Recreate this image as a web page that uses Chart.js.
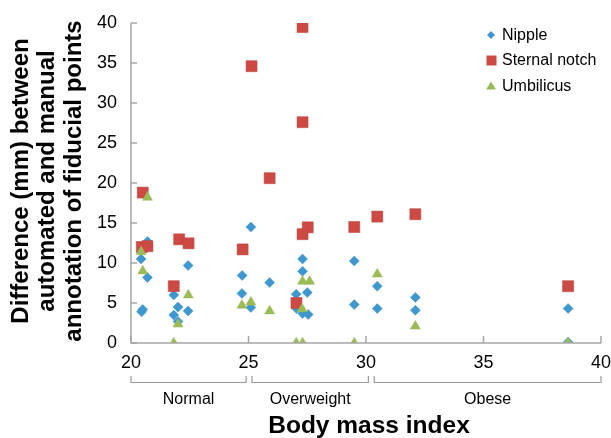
<!DOCTYPE html>
<html>
<head>
<meta charset="utf-8">
<script src="https://cdn.jsdelivr.net/npm/chart.js@4.4.1/dist/chart.umd.min.js"></script>
<style>
  body { margin: 0; background: #fff; }
  canvas { display: block; }
</style>
</head>
<body>
<canvas id="bmi" width="611" height="438"></canvas>
<script>
// data
var nippleBMI  = [20.7, 20.43, 20.7, 20.45, 20.5, 22.43, 21.82, 22.0, 21.82, 22.43, 22.0, 25.1, 27.3, 29.5, 24.73, 27.3, 25.9, 24.72, 27.5, 27.03, 27.04, 25.1, 27.3, 27.54, 29.5, 30.48, 30.48, 32.1, 32.1, 38.6, 38.6];
var nippleDiff = [12.7, 10.5, 8.2, 3.9, 4.2, 9.7, 6.0, 4.5, 3.5, 4.0, 2.7, 14.5, 10.5, 10.25, 8.45, 8.96, 7.55, 6.2, 6.3, 6.1, 4.3, 4.45, 3.7, 3.55, 4.8, 7.1, 4.3, 5.7, 4.1, 4.3, 0.1];

var sternalBMI  = [20.5, 20.46, 20.7, 22.05, 22.45, 21.82, 24.75, 25.13, 25.9, 27.3, 27.3, 27.52, 27.3, 29.5, 27.04, 30.48, 32.1, 38.6];
var sternalDiff = [18.8, 12.0, 12.1, 12.96, 12.46, 7.1, 11.7, 34.6, 20.6, 39.5, 27.6, 14.46, 13.6, 14.5, 5.0, 15.8, 16.1, 7.1];

var umbBMI  = [20.7, 20.43, 20.5, 22.44, 22.0, 21.82, 24.72, 25.1, 25.9, 27.3, 27.6, 27.28, 27.03, 27.3, 29.5, 30.48, 32.1, 38.6];
var umbDiff = [18.2, 11.4, 9.0, 6.0, 2.35, 0, 4.7, 5.1, 4.0, 7.7, 7.7, 4.25, 0, 0, 0, 8.6, 2.1, 0];

var xTicks = [20, 25, 30, 35, 40];
var yTicks = [0, 5, 10, 15, 20, 25, 30, 35, 40];

var groupNames  = ["Normal", "Overweight", "Obese"];
var groupStarts = [20, 25.15, 30.35];
var groupEnds   = [24.9, 30.1, 40];

var FONT = '"Liberation Sans", Arial, sans-serif';
var AXIS = "#a6a6a6";

function pts(xs, ys) {
  return xs.map(function (x, i) { return { x: x, y: ys[i] }; });
}

// axes, inward ticks, brackets, titles and legend
const extrasPlugin = {
  id: "extras",
  afterDraw: (chart) => {
    let ctx = chart.ctx;
    let xs = chart.scales.x, ys = chart.scales.y;
    let area = chart.chartArea;
    ctx.save();

    ctx.strokeStyle = AXIS;
    ctx.lineWidth = 1.5;
    ctx.beginPath();
    ctx.moveTo(area.left, area.top);
    ctx.lineTo(area.left, area.bottom);
    ctx.lineTo(area.right, area.bottom);
    ctx.stroke();

    ctx.beginPath();
    yTicks.forEach(function (v) {
      let p = ys.getPixelForValue(v);
      ctx.moveTo(area.left, p);
      ctx.lineTo(area.left + 6, p);
    });
    xTicks.forEach(function (v) {
      let p = xs.getPixelForValue(v);
      ctx.moveTo(p, area.bottom);
      ctx.lineTo(p, area.bottom - 7);
    });
    ctx.stroke();

    // BMI class brackets
    ctx.strokeStyle = "#9a9a9a";
    ctx.lineWidth = 1.2;
    ctx.fillStyle = "#000";
    ctx.font = "16px " + FONT;
    ctx.textAlign = "center";
    ctx.textBaseline = "alphabetic";
    groupNames.forEach(function (name, i) {
      let a = xs.getPixelForValue(groupStarts[i]);
      let b = xs.getPixelForValue(groupEnds[i]);
      ctx.beginPath();
      ctx.moveTo(a, 376);
      ctx.lineTo(a, 382.5);
      ctx.lineTo(b, 382.5);
      ctx.lineTo(b, 376);
      ctx.stroke();
      ctx.fillText(name, (a + b) / 2, 404);
    });

    ctx.font = "bold 24.5px " + FONT;
    ctx.fillText("Body mass index", 369, 433);

    // y title, three lines
    let yLines = ["Difference (mm) between", "automated and manual", "annotation of fiducial points"];
    ctx.save();
    ctx.translate(0, 181);
    ctx.rotate(-Math.PI / 2);
    ctx.font = "bold 24px " + FONT;
    yLines.forEach(function (t, i) {
      ctx.fillText(t, 0, 28 + i * 26.3);
    });
    ctx.restore();

    // legend
    ctx.font = "16px " + FONT;
    ctx.textAlign = "left";
    ctx.textBaseline = "middle";
    let ly = [35, 60.5, 86];
    chart.data.datasets.forEach(function (ds, i) {
      let y = ly[i];
      ctx.fillStyle = ds.backgroundColor;
      ctx.beginPath();
      if (ds.pointStyle === "rectRot") {
        ctx.moveTo(491, y - 4); ctx.lineTo(495, y); ctx.lineTo(491, y + 4); ctx.lineTo(487, y);
      } else if (ds.pointStyle === "rect") {
        ctx.rect(486.5, y - 5, 10, 10);
      } else {
        ctx.moveTo(491, y - 4.5); ctx.lineTo(496, y + 3.5); ctx.lineTo(486, y + 3.5);
      }
      ctx.closePath();
      ctx.fill();
      ctx.fillStyle = "#000";
      ctx.fillText(ds.label, 502, y + 0.5);
    });

    ctx.restore();
  },
};

var cfg = {
  type: "scatter",
  plugins: [extrasPlugin],
  data: {
    datasets: [
      {
        label: "Nipple",
        data: pts(nippleBMI, nippleDiff),
        pointStyle: "rectRot",
        backgroundColor: "rgb(62,152,207)",
        borderColor: "rgb(62,152,207)",
        borderWidth: 0.5,
        pointRadius: 5,
        pointHoverRadius: 5,
        order: 3,
      },
      {
        label: "Sternal notch",
        data: pts(sternalBMI, sternalDiff),
        pointStyle: "rect",
        backgroundColor: "rgb(205,74,68)",
        borderColor: "rgb(190,65,60)",
        borderWidth: 0.5,
        pointRadius: 7.8,
        pointHoverRadius: 7.8,
        order: 2,
      },
      {
        label: "Umbilicus",
        data: pts(umbBMI, umbDiff),
        pointStyle: "triangle",
        backgroundColor: "rgb(155,187,89)",
        borderColor: "rgb(155,187,89)",
        borderWidth: 0.5,
        pointRadius: 5.8,
        pointHoverRadius: 5.8,
        order: 1,
      },
    ],
  },
  options: {
    responsive: false,
    animation: false,
    devicePixelRatio: 1,
    layout: { padding: { top: 23, right: 10, left: 0, bottom: 0 } },
    plugins: {
      legend: { display: false },
      tooltip: { enabled: false },
    },
    scales: {
      x: {
        type: "linear",
        min: 20,
        max: 40,
        afterFit: (s) => { s.height = 95; s.paddingLeft = 0; s.paddingRight = 0; },
        afterBuildTicks: (s) => { s.ticks = xTicks.map(v => ({ value: v })); },
        ticks: { font: { size: 18, family: FONT }, color: "#000", padding: 9, maxRotation: 0 },
        grid: { display: false, drawTicks: false },
        border: { display: false },
      },
      y: {
        min: 0,
        max: 40,
        afterFit: (s) => { s.width = 131; s.paddingTop = 0; s.paddingBottom = 0; },
        afterBuildTicks: (s) => { s.ticks = yTicks.map(v => ({ value: v })); },
        ticks: { font: { size: 18, family: FONT }, color: "#000", padding: 14 },
        grid: { display: false, drawTicks: false },
        border: { display: false },
      },
    },
  },
};

var chart = new Chart(document.getElementById("bmi").getContext("2d"), cfg);
</script>
</body>
</html>
